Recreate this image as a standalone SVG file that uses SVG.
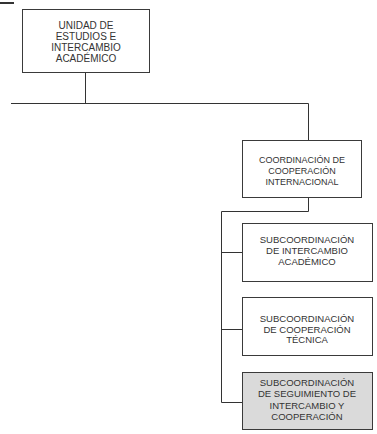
<svg xmlns="http://www.w3.org/2000/svg" width="377" height="434" viewBox="0 0 377 434">
<style>
.box{fill:#ffffff;stroke:#3a3a3a;stroke-width:1}
.gray{fill:#dadada}
.t{font-family:"Liberation Sans",Arial,sans-serif;fill:#333;text-anchor:middle}
.c{fill:none;stroke:#333;stroke-width:1}
</style>
<rect width="377" height="434" fill="#ffffff"/>
<line x1="0" y1="3" x2="14" y2="3" stroke="#333" stroke-width="2"/>
<g id="connectors">
<path class="c" d="M85.5,73 V103.5 M11,103.5 H308.5 V140"/>
<path class="c" d="M308.5,198 V211.5 H221.5 V402.5 H242 M221.5,252.5 H242 M221.5,329.5 H242"/>
</g>
<g id="n1">
<rect class="box" x="22.5" y="9.5" width="127" height="63"/>
<text class="t" font-size="10" x="86" y="29">UNIDAD DE</text>
<text class="t" font-size="10" x="86" y="40">ESTUDIOS E</text>
<text class="t" font-size="10" x="86" y="51">INTERCAMBIO</text>
<text class="t" font-size="10" x="86" y="62">ACADÉMICO</text>
</g>
<g id="n2">
<rect class="box" x="242.5" y="140.5" width="119" height="57"/>
<text class="t" font-size="9" x="302" y="163">COORDINACIÓN DE</text>
<text class="t" font-size="9" x="302" y="174">COOPERACIÓN</text>
<text class="t" font-size="9" x="302" y="185">INTERNACIONAL</text>
</g>
<g id="n3">
<rect class="box" x="242.5" y="223.5" width="130" height="58"/>
<text class="t" font-size="9.5" x="307" y="243">SUBCOORDINACIÓN</text>
<text class="t" font-size="9.5" x="307" y="254">DE INTERCAMBIO</text>
<text class="t" font-size="9.5" x="307" y="265">ACADÉMICO</text>
</g>
<g id="n4">
<rect class="box" x="242.5" y="297.5" width="130" height="58"/>
<text class="t" font-size="9.5" x="307" y="322">SUBCOORDINACIÓN</text>
<text class="t" font-size="9.5" x="307" y="332.5">DE COOPERACIÓN</text>
<text class="t" font-size="9.5" x="307" y="343">TÉCNICA</text>
</g>
<g id="n5">
<rect class="box gray" x="242.5" y="372.5" width="130" height="57"/>
<text class="t" font-size="9.5" x="307" y="386">SUBCOORDINACIÓN</text>
<text class="t" font-size="9.5" x="307" y="397">DE SEGUIMIENTO DE</text>
<text class="t" font-size="9.5" x="307" y="408.5">INTERCAMBIO Y</text>
<text class="t" font-size="9.5" x="307" y="420">COOPERACIÓN</text>
</g>
</svg>
